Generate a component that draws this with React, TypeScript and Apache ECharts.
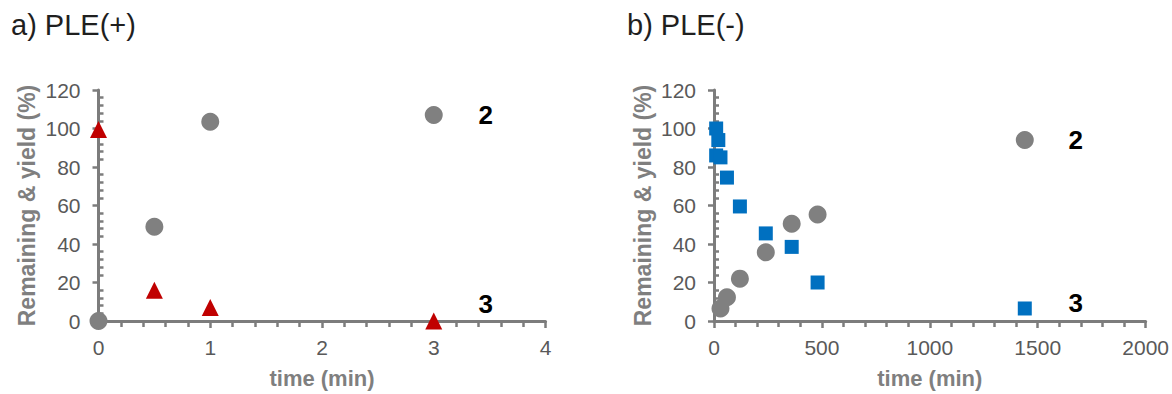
import React, { useEffect, useRef } from "react";
import * as echarts from "echarts";

// Panel a) PLE(+)
const aTime2 = [0, 0.5, 1, 3];
const aYield2 = [0, 49, 103.5, 107];
const aTime3 = [0, 0.5, 1, 3];
const aRemain3 = [99.5, 16, 7, 0];

// Panel b) PLE(-)
const bTime2 = [30, 60, 120, 240, 360, 480, 1440];
const bYield2 = [6.5, 12.3, 22, 35.7, 50.5, 55.3, 94];
const bTime3 = [10, 20, 10, 30, 60, 120, 240, 360, 480, 1440];
const bRemain3 = [100, 94, 86, 85, 74.5, 59.5, 45.5, 38.5, 20, 6.5];

const titles = ["a) PLE(+)", "b) PLE(-)"];
const yName = "Remaining & yield (%)";
const xName = "time (min)";
const seriesLabels = ["2", "3"];

const FONT = "'Liberation Sans', Arial, sans-serif";
const AXIS = "#7c7c7c";
const TICKTXT = "#595959";
const NAMETXT = "#7f7f7f";

function pairs(xs: number[], ys: number[], label?: any) {
  return xs.map((x, i) => {
    const item: any = { value: [x, ys[i]] };
    if (label && i === xs.length - 1) item.label = label;
    return item;
  });
}

function endLabel(text: string, offset: number[]) {
  return {
    show: true,
    formatter: text,
    position: "inside",
    offset,
    color: "#000000",
    opacity: 1,
    fontWeight: "bold",
    fontSize: 26,
    fontFamily: FONT,
    textBorderWidth: 0,
  };
}

function xAxis(gridIndex: number, max: number, interval: number) {
  return {
    type: "value",
    gridIndex,
    min: 0,
    max,
    interval,
    name: xName,
    nameLocation: "middle",
    nameGap: 46,
    nameTextStyle: { color: NAMETXT, fontWeight: "bold", fontSize: 22, fontFamily: FONT },
    axisLine: { show: true, onZero: false, lineStyle: { color: AXIS, width: 3 } },
    axisTick: { show: true, length: 7, lineStyle: { color: AXIS, width: 2.5 } },
    minorTick: { show: true, splitNumber: 5, length: 6, lineStyle: { color: AXIS, width: 2.5 } },
    axisLabel: {
      color: TICKTXT,
      fontSize: 21,
      fontFamily: FONT,
      margin: 16,
      formatter: (v: number) => String(v),
    },
    splitLine: { show: false },
    minorSplitLine: { show: false },
  };
}

function yAxis(gridIndex: number) {
  return {
    type: "value",
    gridIndex,
    min: 0,
    max: 120,
    interval: 20,
    name: yName,
    nameLocation: "middle",
    nameGap: 60,
    nameTextStyle: { color: NAMETXT, fontWeight: "bold", fontSize: 23, fontFamily: FONT },
    axisLine: { show: true, onZero: false, lineStyle: { color: AXIS, width: 3 } },
    axisTick: { show: true, length: 6, lineStyle: { color: AXIS, width: 2.5 } },
    minorTick: { show: true, splitNumber: 5, length: -5, lineStyle: { color: AXIS, width: 2.5 } },
    axisLabel: {
      color: TICKTXT,
      fontSize: 21,
      fontFamily: FONT,
      margin: 18,
      formatter: (v: number) => String(v),
    },
    splitLine: { show: false },
    minorSplitLine: { show: false },
  };
}

export default function App() {
  const ref = useRef<HTMLDivElement>(null);
  useEffect(() => {
    if (!ref.current) return;
    const chart = echarts.init(ref.current, undefined, { renderer: "svg" });
    const titleStyle = { fontSize: 29, fontWeight: "normal", color: "#1f1f1f", fontFamily: FONT };
    chart.setOption({
      animation: false,
      backgroundColor: "#ffffff",
      title: [
        { text: titles[0], left: 11, top: 10, padding: 0, textStyle: titleStyle },
        { text: titles[1], left: 627, top: 10, padding: 0, textStyle: titleStyle },
      ],
      grid: [
        { left: 98.5, top: 90, width: 447, height: 233.5 },
        { left: 714, top: 90, width: 432, height: 234.3 },
      ],
      xAxis: [xAxis(0, 4, 1), xAxis(1, 2000, 500)],
      yAxis: [yAxis(0), yAxis(1)],
      series: [
        {
          type: "scatter",
          xAxisIndex: 0,
          yAxisIndex: 0,
          symbol: "circle",
          symbolSize: 18,
          clip: false,
          itemStyle: { color: "#808080", opacity: 1 },
          data: pairs(aTime2, aYield2, endLabel(seriesLabels[0], [52, 0])),
        },
        {
          type: "scatter",
          xAxisIndex: 0,
          yAxisIndex: 0,
          symbol: "triangle",
          symbolSize: 17,
          clip: false,
          itemStyle: { color: "#c00000", opacity: 1 },
          data: pairs(aTime3, aRemain3, endLabel(seriesLabels[1], [52, -17])),
        },
        {
          type: "scatter",
          xAxisIndex: 1,
          yAxisIndex: 1,
          symbol: "circle",
          symbolSize: 18,
          clip: false,
          itemStyle: { color: "#808080", opacity: 1 },
          data: pairs(bTime2, bYield2, endLabel(seriesLabels[0], [51, 0])),
        },
        {
          type: "scatter",
          xAxisIndex: 1,
          yAxisIndex: 1,
          symbol: "rect",
          symbolSize: 14,
          clip: false,
          itemStyle: { color: "#0070c0", opacity: 1 },
          data: pairs(bTime3, bRemain3, endLabel(seriesLabels[1], [51, -5])),
        },
      ],
    });
    return () => chart.dispose();
  }, []);
  return (
    <div
      ref={ref}
      style={{ position: "absolute", left: 0, top: 0, width: 1172, height: 394 }}
    />
  );
}
